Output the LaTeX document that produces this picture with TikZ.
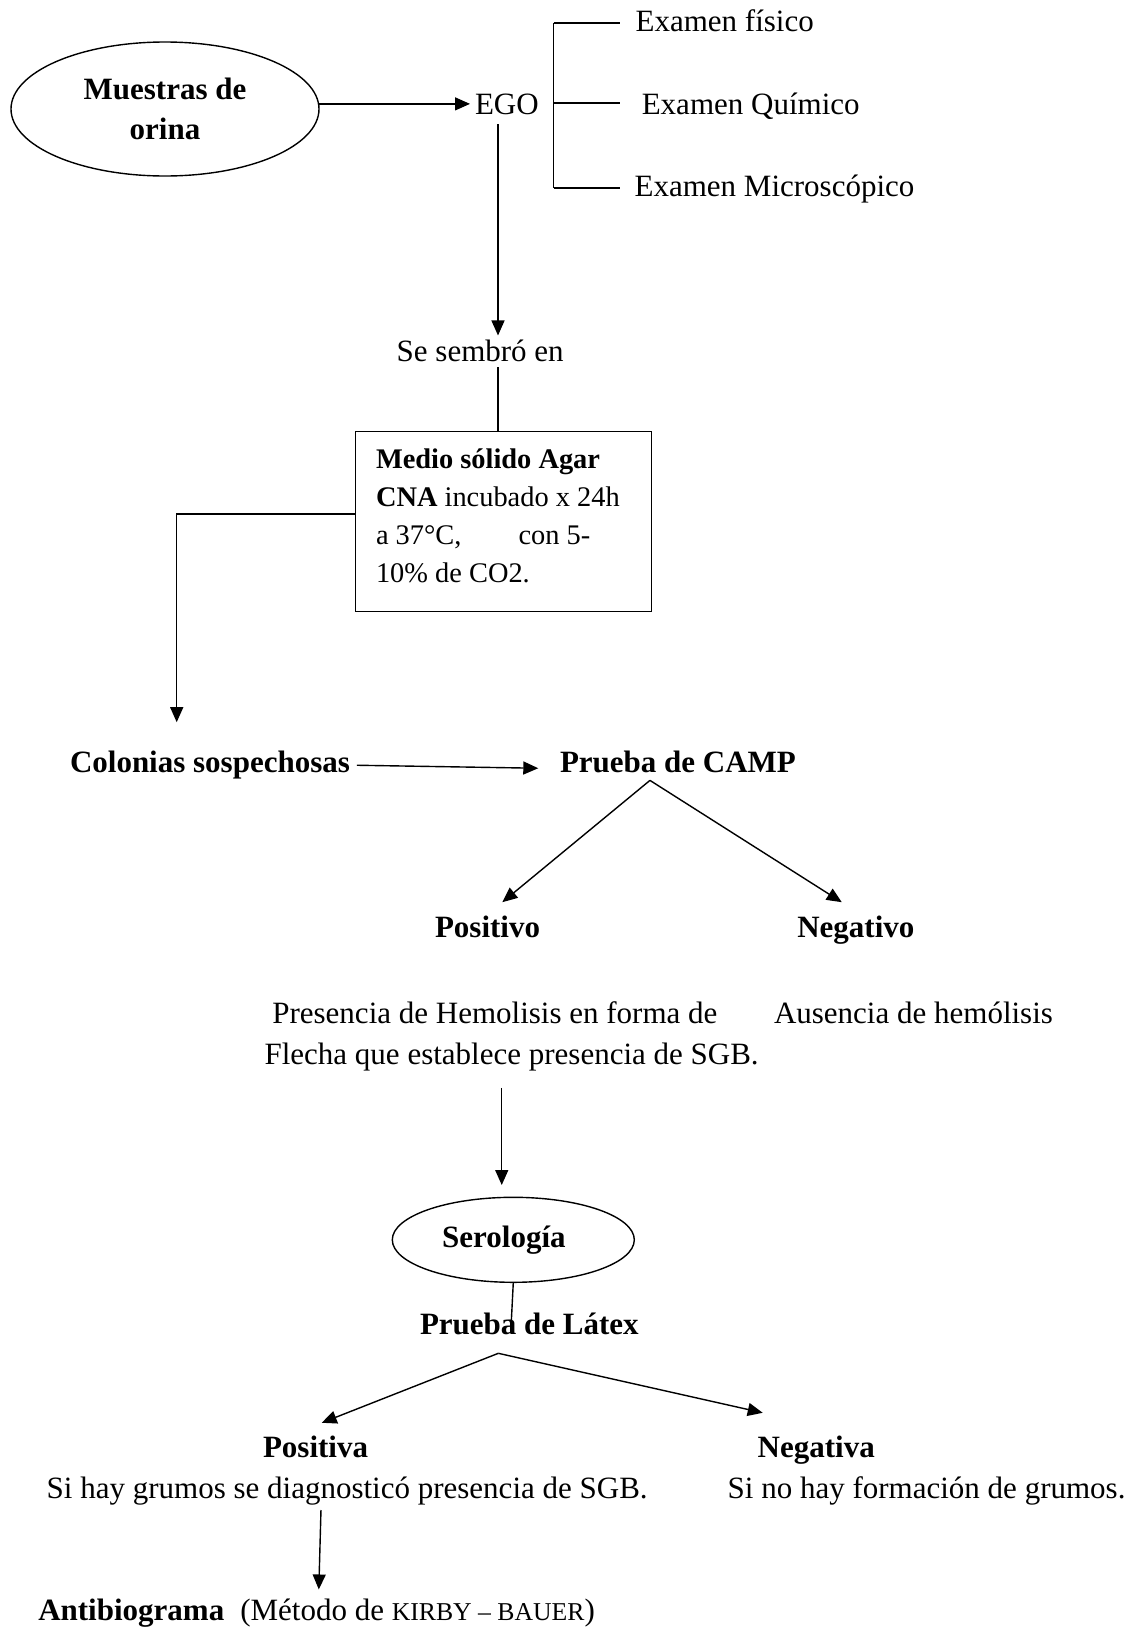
\documentclass[tikz,border=0pt]{standalone}
\usepackage{fontspec}
\setmainfont{Liberation Serif}
\usetikzlibrary{arrows.meta,shapes.geometric}
\begin{document}
\begin{tikzpicture}[x=1pt,y=-1pt,
  every node/.style={inner sep=0pt, outer sep=0pt},
  ln/.style={line width=1.4pt},
  arr/.style={line width=1.4pt,-{Triangle[length=15pt,width=13pt]}},
  txt/.style={font=\fontsize{31}{41}\selectfont, anchor=base west},
  btxt/.style={font=\fontsize{31}{41}\selectfont\bfseries, anchor=base west},
  oval/.style={ellipse, draw, line width=1.4pt, font=\fontsize{31}{40}\selectfont\bfseries, align=center},
  boxst/.style={draw, line width=1.4pt}
]
\useasboundingbox (0,0) rectangle (1131,1628);

% top
\node[oval, minimum width=308pt, minimum height=134pt] (m) at (165,109) {Muestras de\\orina};
\node[txt] (ego) at (475,114) {EGO};
\draw[arr] (m.east |- ego) -- ([xshift=-5pt]ego.west);

\coordinate (bt) at (553.6,23);
\coordinate (bm) at (553.6,103);
\coordinate (bb) at (553.6,188);
\node[txt] (fis) at (635.6,31) {Examen físico};
\node[txt] (qui) at (641.8,114) {Examen Químico};
\node[txt] (mic) at (634.6,196) {Examen Microscópico};
\draw[ln] (bt) -- (bb);
\draw[ln] (bt) -- ([xshift=-15.6pt]fis.west |- bt);
\draw[ln] (bm) -- ([xshift=-21.8pt]qui.west |- bm);
\draw[ln] (bb) -- ([xshift=-14.6pt]mic.west |- bb);

% sembro
\node[txt] (sse) at (396.7,361) {Se sembró en};
\coordinate (e1) at ([xshift=-8.85pt,yshift=-10pt]ego.south);
\draw[arr] (e1) -- ([yshift=4pt]sse.north -| e1);

\node[boxst, minimum width=296pt, minimum height=180pt] (box) at (503.7,521.7) {};
\node[font=\fontsize{28.4}{37.7}\selectfont, align=left, anchor=base west] (boxt) at (376,582)
  {\textbf{Medio sólido Agar}\\\textbf{CNA} incubado x 24h\\a 37°C,\hspace{57pt}con 5-\\10\% de CO2.};
\draw[ln] ([yshift=-6pt]sse.south -| e1) -- (box.north -| e1);

% colonias
\node[btxt] (col) at (70,772.7) {Colonias sospechosas};
\draw[arr] ([yshift=7.7pt]box.west) -| ([xshift=-33.25pt,yshift=29pt]col.north);
\node[btxt] (camp) at (560,772.7) {Prueba de CAMP};
\draw[arr] ([xshift=7pt]col.east) -- ([xshift=-21.7pt,yshift=-6.1pt]camp.west);

\coordinate (ap1) at ([xshift=-28pt,yshift=-7.3pt]camp.south);
\node[btxt] (pos) at (435,937.3) {Positivo};
\node[btxt] (neg) at (797.3,937.3) {Negativo};
\draw[arr] (ap1) -- ([xshift=14.8pt,yshift=13.6pt]pos.north);
\draw[arr] (ap1) -- ([xshift=-14.1pt,yshift=13.6pt]neg.north);

\node[txt, align=left] (pres) at (264.6,1064)
  {\hspace*{7.75pt}Presencia de Hemolisis en forma de\\Flecha que establece presencia de SGB.};
\node[txt] (aus) at (774,1023) {Ausencia de hemólisis};

% serologia
\node[oval, minimum width=242pt, minimum height=85pt] (ser) at (513.3,1239.8) {Serología\hspace{18.8pt}};
\coordinate (e3) at ([xshift=-9.9pt,yshift=-17.3pt]pres.south);
\draw[arr] (e3) -- ([yshift=12.3pt]ser.north -| e3);

\node[btxt] (lat) at (420,1334) {Prueba de Látex};
\draw[ln] (ser.south) -- ([xshift=-18.3pt,yshift=7.3pt]lat.base);

\coordinate (ap2) at ([xshift=-31pt,yshift=-19.3pt]lat.base);
\node[btxt] (posa) at (263,1457.7) {Positiva};
\node[btxt] (nega) at (757.7,1457.3) {Negativa};
\draw[arr] (ap2) -- ([xshift=6.2pt,yshift=13.4pt]posa.north);
\draw[arr] (ap2) -- ([xshift=-53.5pt,yshift=23pt]nega.north);

\node[txt] (sih) at (46.7,1498) {Si hay grumos se diagnosticó presencia de SGB.};
\node[txt] (sin) at (727.7,1498.3) {Si no hay formación de grumos.};

\node[txt] (anti) at (38.3,1620.7)
  {\textbf{Antibiograma}\hspace{16pt}(Método de {\fontsize{25.7}{30}\selectfont KIRBY – BAUER})};
\draw[arr] ([xshift=-26.2pt,yshift=-5.3pt]sih.south) -- ([xshift=2.2pt,yshift=9.7pt]anti.north);
\end{tikzpicture}
\end{document}
